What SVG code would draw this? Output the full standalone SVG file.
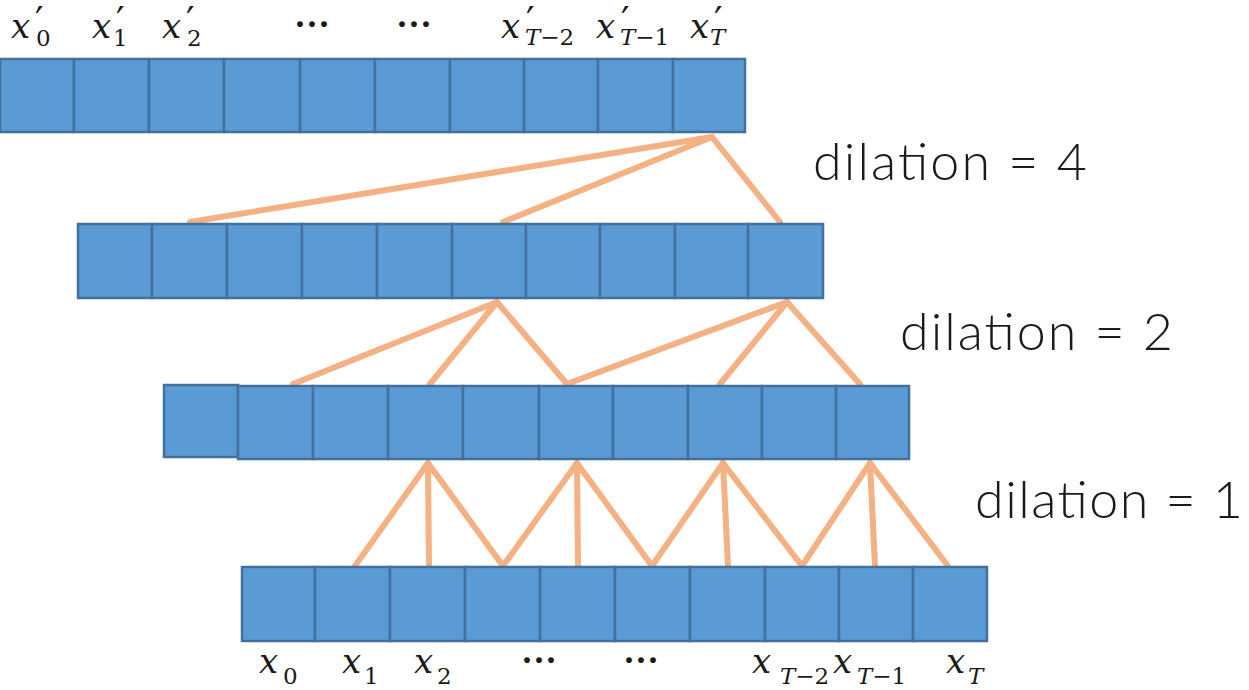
<svg xmlns="http://www.w3.org/2000/svg" width="1249" height="690" viewBox="0 0 1249 690">
<style>
.c{fill:#5B9BD5;stroke:#41719C;stroke-width:2.5}
.e{stroke:#F4B183;stroke-width:6;stroke-linecap:round;fill:none}
.m{font-family:"DejaVu Serif","Liberation Serif",serif;font-style:italic;font-size:34px;fill:#1a1a1a}
.s{font-size:23px}
.u{font-style:normal}
.p{font-size:38px;font-style:normal}
.d{font-family:"Lato","Noto Sans",sans-serif;font-weight:300;font-size:52px;fill:#1a1a1a}
.dots{font-family:"Liberation Serif",serif;font-size:36px;font-weight:bold;fill:#1a1a1a}
</style>
<rect width="1249" height="690" fill="#fff"/>
<g id="connectors">
<line class="e" x1="712" y1="137" x2="190" y2="222"/>
<line class="e" x1="712" y1="137" x2="503" y2="222"/>
<line class="e" x1="712" y1="137" x2="780" y2="222"/>
<line class="e" x1="497" y1="302" x2="293" y2="384"/>
<line class="e" x1="497" y1="302" x2="430" y2="384"/>
<line class="e" x1="497" y1="302" x2="567" y2="384"/>
<line class="e" x1="787" y1="302" x2="567" y2="384"/>
<line class="e" x1="787" y1="302" x2="720" y2="384"/>
<line class="e" x1="787" y1="302" x2="860" y2="384"/>
<line class="e" x1="428" y1="463" x2="355" y2="566"/>
<line class="e" x1="428" y1="463" x2="429" y2="566"/>
<line class="e" x1="428" y1="463" x2="503" y2="566"/>
<line class="e" x1="577" y1="463" x2="503" y2="566"/>
<line class="e" x1="577" y1="463" x2="578" y2="566"/>
<line class="e" x1="577" y1="463" x2="652" y2="566"/>
<line class="e" x1="723" y1="463" x2="652" y2="566"/>
<line class="e" x1="723" y1="463" x2="728" y2="566"/>
<line class="e" x1="723" y1="463" x2="802" y2="566"/>
<line class="e" x1="870" y1="463" x2="802" y2="566"/>
<line class="e" x1="870" y1="463" x2="875" y2="566"/>
<line class="e" x1="870" y1="463" x2="948" y2="566"/>
</g>
<g id="row-output">
<rect class="c" x="0" y="59" width="74" height="73"/>
<rect class="c" x="74" y="59" width="75" height="73"/>
<rect class="c" x="149" y="59" width="75" height="73"/>
<rect class="c" x="224" y="59" width="76" height="73"/>
<rect class="c" x="300" y="59" width="75" height="73"/>
<rect class="c" x="375" y="59" width="75" height="73"/>
<rect class="c" x="450" y="59" width="74" height="73"/>
<rect class="c" x="524" y="59" width="74" height="73"/>
<rect class="c" x="598" y="59" width="75" height="73"/>
<rect class="c" x="673" y="59" width="72" height="73"/>
</g>
<g id="row-hidden2">
<rect class="c" x="78" y="224" width="74" height="74"/>
<rect class="c" x="152" y="224" width="75" height="74"/>
<rect class="c" x="227" y="224" width="75" height="74"/>
<rect class="c" x="302" y="224" width="75" height="74"/>
<rect class="c" x="377" y="224" width="75" height="74"/>
<rect class="c" x="452" y="224" width="74" height="74"/>
<rect class="c" x="526" y="224" width="74" height="74"/>
<rect class="c" x="600" y="224" width="75" height="74"/>
<rect class="c" x="675" y="224" width="73" height="74"/>
<rect class="c" x="748" y="224" width="75" height="74"/>
</g>
<g id="row-hidden1">
<rect class="c" x="164" y="385" width="74" height="72"/>
<rect class="c" x="238" y="386" width="75" height="73"/>
<rect class="c" x="313" y="386" width="75" height="73"/>
<rect class="c" x="388" y="386" width="75" height="73"/>
<rect class="c" x="463" y="386" width="76" height="73"/>
<rect class="c" x="539" y="386" width="74" height="73"/>
<rect class="c" x="613" y="386" width="75" height="73"/>
<rect class="c" x="688" y="386" width="74" height="73"/>
<rect class="c" x="762" y="386" width="74" height="73"/>
<rect class="c" x="836" y="386" width="73" height="73"/>
</g>
<g id="row-input">
<rect class="c" x="242" y="567" width="73" height="74"/>
<rect class="c" x="315" y="567" width="75" height="74"/>
<rect class="c" x="390" y="567" width="75" height="74"/>
<rect class="c" x="465" y="567" width="75" height="74"/>
<rect class="c" x="540" y="567" width="75" height="74"/>
<rect class="c" x="615" y="567" width="75" height="74"/>
<rect class="c" x="690" y="567" width="75" height="74"/>
<rect class="c" x="765" y="567" width="74" height="74"/>
<rect class="c" x="839" y="567" width="74" height="74"/>
<rect class="c" x="913" y="567" width="74" height="74"/>
</g>
<g id="labels-top">
<text class="m" x="11" y="38">x<tspan class="p" x="35" y="33">′</tspan><tspan class="s u" x="36" y="46">0</tspan></text>
<text class="m" x="92" y="38">x<tspan class="p" x="116" y="33">′</tspan><tspan class="s u" x="113" y="46">1</tspan></text>
<text class="m" x="162" y="38">x<tspan class="p" x="186" y="33">′</tspan><tspan class="s u" x="187" y="46">2</tspan></text>
<text class="dots" x="294" y="36">···</text>
<text class="dots" x="396" y="36">···</text>
<text class="m" x="501" y="38">x<tspan class="p" x="526" y="33">′</tspan><tspan class="s" x="525" y="45">T</tspan><tspan class="s u">−2</tspan></text>
<text class="m" x="596" y="38">x<tspan class="p" x="621" y="33">′</tspan><tspan class="s" x="620" y="45">T</tspan><tspan class="s u">−1</tspan></text>
<text class="m" x="690" y="38">x<tspan class="p" x="714" y="33">′</tspan><tspan class="s" x="710" y="45">T</tspan></text>
</g>
<g id="labels-bottom">
<text class="m" x="259" y="673">x<tspan class="s u" x="283" y="684">0</tspan></text>
<text class="m" x="342" y="673">x<tspan class="s u" x="364" y="684">1</tspan></text>
<text class="m" x="414" y="673">x<tspan class="s u" x="437" y="684">2</tspan></text>
<text class="dots" x="521" y="672">···</text>
<text class="dots" x="623" y="672">···</text>
<text class="m" x="752" y="673">x<tspan class="s" x="780" y="684">T</tspan><tspan class="s u">−2</tspan></text>
<text class="m" x="833" y="673">x<tspan class="s" x="857" y="684">T</tspan><tspan class="s u">−1</tspan></text>
<text class="m" x="946" y="673">x<tspan class="s" x="968" y="684">T</tspan></text>
</g>
<g id="dilation-labels">
<text class="d" x="813" y="180" textLength="274" lengthAdjust="spacing">dilation = 4</text>
<text class="d" x="900" y="350" textLength="273" lengthAdjust="spacing">dilation = 2</text>
<text class="d" x="975" y="518" textLength="268" lengthAdjust="spacing">dilation = 1</text>
</g>
</svg>
